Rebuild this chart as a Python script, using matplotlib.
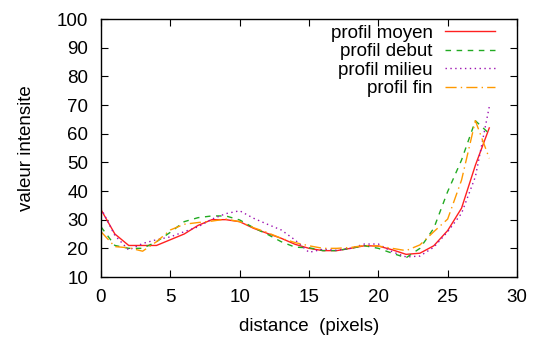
import matplotlib
matplotlib.use("Agg")
import matplotlib.pyplot as plt

# --- data ---
distance = list(range(29))

profil_moyen = [33.5, 25, 21, 21, 21, 23, 25, 28, 30, 30, 29.3, 27, 25.2, 23.5, 21.4,
                20, 19.2, 19.2, 20, 20.9, 20.8, 19.5, 17.9, 18.3, 20.9, 26.2, 34, 49, 62]
profil_debut = [27.5, 21, 20, 20, 22.3, 25.6, 29.3, 30.7, 31.3, 31.3, 29.9, 27.2, 24.9, 22.3, 20.4,
                20.2, 19.2, 19.2, 20, 20.9, 20, 18.3, 16.7, 20, 27, 39.8, 50.8, 64.5, 60]
profil_milieu = [34, 24.5, 19.4, 21.7, 23, 24, 25.8, 27.5, 30.2, 32.1, 33.1, 30.5, 28.4, 26.4, 22.9,
                 18.6, 19.7, 19.3, 20, 21.5, 21.5, 18.8, 17, 17.3, 20.4, 25.8, 32.2, 45, 69.4]
profil_fin = [25.8, 20.6, 20.2, 19, 22.3, 26.4, 28.4, 29, 29.5, 30.2, 29.3, 27.2, 25.5, 23.5, 22,
              20.9, 20, 20, 20.3, 21, 20.8, 20, 19.2, 21.2, 25.8, 30.2, 43.8, 64.5, 51.4]

FS = 13.5
plt.rcParams["font.family"] = ["Liberation Sans", "DejaVu Sans"]
plt.rcParams["font.size"] = FS

fig = plt.figure(figsize=(5.36, 3.38), dpi=100)
ax = fig.add_axes([101 / 536, 1 - 277 / 338, 416 / 536, 258 / 338])

ax.plot(distance, profil_moyen, color="#ff2020", lw=1.0, label="profil moyen")
ax.plot(distance, profil_debut, color="#22aa22", lw=1.0, ls=(0, (4, 4)), label="profil debut")
ax.plot(distance, profil_milieu, color="#9c10b0", lw=1.0, ls=(0, (1, 2.5)), label="profil milieu")
ax.plot(distance, profil_fin, color="#ff9900", lw=1.0, ls=(0, (8, 3, 1, 3)), label="profil fin")

ax.set_xlim(0, 30)
ax.set_ylim(10, 100)
ax.set_xticks(range(0, 31, 5))
ax.set_yticks(range(10, 101, 10))
ax.tick_params(direction="in", length=5, width=0.8, top=True, right=True, pad=9,
               labelsize=FS)
for s in ax.spines.values():
    s.set_linewidth(1.0)

ax.set_xlabel("distance  (pixels)", fontsize=FS, va="center")
ax.set_ylabel("valeur intensite", fontsize=FS, va="center")
ax.xaxis.set_label_coords(0.5, -0.19)
ax.yaxis.set_label_coords(-0.178, 0.5)

ax.legend(loc="upper right", bbox_to_anchor=(0.96, 1.0), frameon=False,
          markerfirst=False, fontsize=FS,
          handlelength=2.67, handletextpad=0.64, labelspacing=0.07,
          borderaxespad=0.0, borderpad=0.3)

fig.savefig("out.png", dpi=100)
